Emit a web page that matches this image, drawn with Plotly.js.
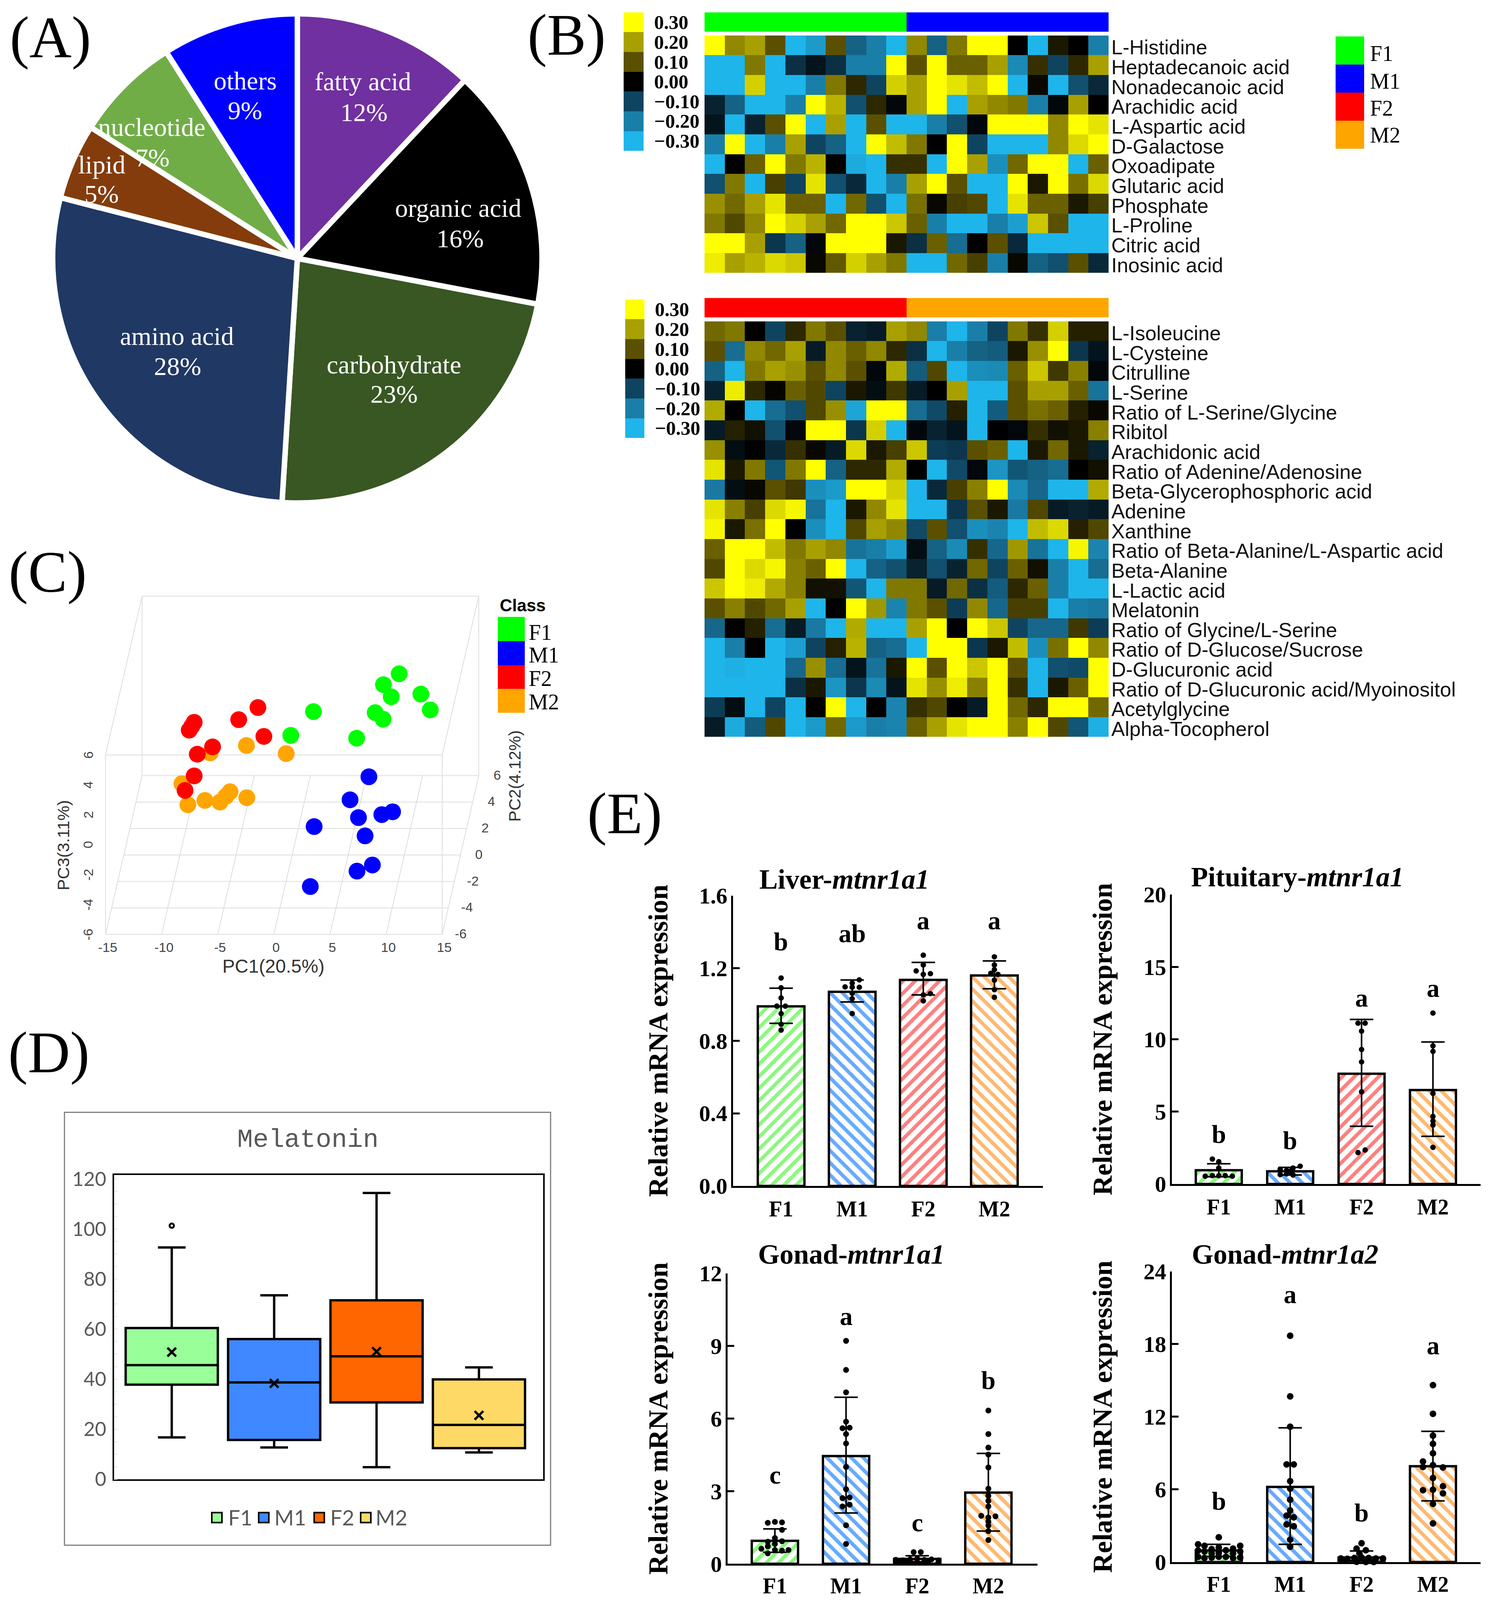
<!DOCTYPE html>
<html><head><meta charset="utf-8">
<script src="https://cdn.plot.ly/plotly-3.0.1.min.js"></script>
<style>html,body{margin:0;padding:0;background:#fff}</style></head>
<body><div id="chart" style="width:3808px;height:4096px"></div>
<script>
// ---------- DATA ----------
const groups = ['F1','M1','F2','M2'];
const groupColors = ['#00FF00','#0000FF','#FF0000','#FFA500'];

const pieLabels = ['fatty acid','organic acid','carbohydrate','amino acid','lipid','nucleotide','others'];
const pieValues = [12,16,23,28,5,7,9];
const pieColors = ['#7030A0','#000000','#385723','#203864','#843C0C','#70AD47','#0000FF'];

const heatTopNames = ['L-Histidine','Heptadecanoic acid','Nonadecanoic acid','Arachidic acid','L-Aspartic acid','D-Galactose','Oxoadipate','Glutaric acid','Phosphate','L-Proline','Citric acid','Inosinic acid'];
const heatTop = [
[3,1.7,2,1,-3,-2.5,1,-1.5,-2,-3,1.7,-1.5,1.5,3,3,0,-3,0.3,0,-2],
[-3,-3,1.5,-3,-0.7,-0.3,-0.7,-2,-2,3,1,3,1.2,1.2,2,-2.2,0.6,-1,0.5,2],
[-3,-3,2.5,-3,-3,-2,1.5,0.5,-1,2.5,2,3,2.7,2.3,3,-3,0.1,-3,-1.2,-0.6],
[-0.5,-1.5,-3,-3,-2,3,2.2,-1.2,0.5,-0.1,2,3,-3,2,1.7,1.5,-2,-0.1,2,0],
[-0.3,-3,-0.5,1,3,-3,2,-3,1,-3,-3,-2,-1.2,-0.1,3,3,3,1.7,3,2.7],
[-2,3,-3,-2,2,-1,-1.5,-3,3,2.3,1.5,0,3,-1,-3,-3,-3,1.7,2.6,3],
[-3,0,1.2,3,1.5,2.2,0,-2.8,-3,0.6,0.6,-3,3,2,-2.3,1.3,3,3,-3,1.2],
[-1.2,1.5,-3,0.8,-1,2.7,-1.2,-0.6,-3,-2,2,3,1,-3,-3,3,0.3,3,1.4,2.6],
[1.8,1.3,2,2.7,1.2,1.2,-3,1.3,-1.2,-3,1.4,0.1,0.8,0.9,-3,2.7,1.2,1.2,0.3,0.8],
[1.5,0.9,1.7,3,2.5,2,1.3,3,3,2.4,1.2,-2,-3,-3,-2,-2.6,2.4,1,-3,-3],
[3,3,2,-0.8,-1.5,-0.1,3,3,3,0.3,-0.7,1.2,-1.7,0,1,-0.6,-3,-3,-3,-3],
[2.8,2,2.2,2.6,2.4,0.1,1.1,2.5,2,1.5,-3,-3,1.3,0.8,-2,0.1,-1.5,-1.2,1,-0.6]];

const heatBottomNames = ['L-Isoleucine','L-Cysteine','Citrulline','L-Serine','Ratio of L-Serine/Glycine','Ribitol','Arachidonic acid','Ratio of Adenine/Adenosine','Beta-Glycerophosphoric acid','Adenine','Xanthine','Ratio of Beta-Alanine/L-Aspartic acid','Beta-Alanine','L-Lactic acid','Melatonin','Ratio of Glycine/L-Serine','Ratio of D-Glucose/Sucrose','D-Glucuronic acid','Ratio of D-Glucuronic acid/Myoinositol','Acetylglycine','Alpha-Tocopherol'];
const heatBottom = [
[1.3,1.5,0,-1,0.5,1.5,1,-0.5,-0.4,2,1.7,-2,-3,-2,-1,1.5,0.6,2.5,0.4,0.4],
[1,-1.7,1.7,1.3,2,-0.4,1.7,1.2,1.7,0.5,-0.7,-3,-2,-1.5,-1.4,0.3,1.8,3,-0.8,-0.3],
[-1.5,-3,1.5,2,1.8,1,1.7,1,-0.1,2.1,-1.4,0.9,-3,-2.3,-2.2,1.2,2.4,0.7,1.6,-0.1],
[-0.5,2.8,0.5,0.05,1.2,0.9,-1,0.3,-0.2,0.7,-0.4,0,2,-3,-3,1,2,2,1.2,-1.8],
[2.1,0,-3,-1.7,-1.2,0.9,1.8,-2.7,3,3,-1.7,-1.1,0.4,-3,-1.4,1,1.4,1.2,0.4,0.1],
[-0.4,0.4,0.2,-1.2,-0.1,3,3,-0.8,2.5,-3,-0.1,-0.5,-0.3,-3,0,-0.1,0.6,0.2,0.3,1.6],
[1.8,-0.2,0,-0.6,0.6,0.1,-0.4,2.6,0.3,0.8,2.4,-0.9,-0.8,1,1.2,-3,0.3,1.3,0.3,-0.5],
[2.7,0.3,1.5,-1.3,1.5,3,-1.5,0.5,0.5,2.1,0,-3,-1.1,-0.1,-2.4,-1.3,-1.5,-1.7,0,0.2],
[-1.9,-0.2,0.1,1,0.7,-2.3,-2.5,3,3,2.5,-3,-0.6,0.8,1.6,3,-2.2,-1.6,-3,-3,2.1],
[2.7,1.6,0.8,2.6,2.9,-1.8,-3,0.3,1.7,2.7,-3,-3,-0.8,1,0.3,-1.9,0.9,-0.4,-0.5,-0.4],
[2.9,0.3,1.4,3,0,-2.3,-3,0.9,2,1.7,-1.1,1,-1.2,-2.3,-2.1,-3,2.3,2.6,0.4,0.9],
[1.2,3,3,2.3,1.5,2,1.7,-1.8,-2,-2.6,-0.2,-1.5,-2.2,0.6,-1.6,1.9,-1.8,-3,2.9,-2.1],
[0.9,3,2.6,2.9,1.6,1.2,3,-3,-1.5,-1.2,-0.5,-1.2,-0.5,1.3,-1,1.2,0.2,-2,-3,-1.7],
[2.4,3,2.8,2.1,1.6,0.2,0.2,-1.3,-3,1.5,1.5,-0.4,1.3,-0.7,-1.4,0.5,1.2,-2,-3,-3],
[1,1.6,0.9,1.3,2,-3,0,3,1.9,-2.1,1.5,1,-0.9,1.7,-1.6,0.8,0.8,-3,-2,-1.9],
[-1.6,0,0.4,-1.7,-0.4,-1.9,-3,2.1,-3,-3,2,3,0,3,2.4,-1,-1.6,-1.6,0.7,-0.9],
[-3,-2,0,-3,-2.6,-1,0.4,2.2,-1.5,-1.7,-3,3,3,-0.8,0.3,2.3,-2.3,1.4,3,1.7],
[-3,-2.9,-3,-3,-1.6,1.8,-1.7,-0.3,-1.8,0.3,3,1,3,2.4,3,1,-3,-1.2,-1.1,3],
[-3,-3,-3,-3,-0.7,0.3,-2.4,-0.8,-2.2,-0.3,2.7,1.8,2.8,1.6,3,0.6,-3,0.3,1.2,3],
[-0.9,-0.2,-3,-1,-3,0,3,-3,0,-2.1,0.6,0.9,0,-0.4,3,1.3,0.5,3,3,1.3],
[-0.4,-2.8,-1.4,0.9,-3,-2.5,1.3,-2.5,-2,-2.1,1.2,2,2.7,3,3,1.6,3,0.9,-1.3,-2.9]];
const scaleValues = [3,2,1,0,-1,-2,-3];
const scaleLabels = ['0.30','0.20','0.10','0.00','\u22120.10','\u22120.20','\u22120.30'];

// PCA: PC1 / PC3 as they read on the front face of the oblique box
const pcaF1X=[11.17,9.77,10.46,13.10,13.94,9.03,9.74,7.38,3.53,1.51];
const pcaF1Y=[11.43,10.70,9.89,10.07,9.01,8.83,8.39,7.12,8.90,7.31];
const pcaM1X=[8.47,6.79,7.54,9.62,10.58,3.59,8.13,8.78,7.41,3.25];
const pcaM1Y=[4.54,3.00,1.81,2.01,2.20,1.21,0.59,-1.36,-1.77,-2.80];
const pcaF2X=[-1.42,-3.13,-0.89,-7.10,-7.32,-7.54,-5.46,-6.82,-7.10,-7.91];
const pcaF2Y=[9.17,8.36,7.24,8.18,7.91,7.66,6.54,6.05,4.60,3.63];
const pcaM2X=[-2.44,1.10,-5.67,-8.19,-7.66,-6.14,-4.80,-4.28,-3.90,-2.41];
const pcaM2Y=[6.63,6.09,6.14,4.08,2.67,2.96,2.85,3.23,3.54,3.14];
const pc1Ticks=[-15,-10,-5,0,5,10,15];
const pc2Ticks=[-6,-4,-2,0,2,4,6];
const pc3Ticks=[-6,-4,-2,0,2,4,6];

// Melatonin box plot
const boxFill=['#99FF99','#3F88FF','#FF6600','#FFD966'];
const boxQ1=[37.8,15.7,30.7,12.4];
const boxMedian=[45.6,38.7,49.1,21.7];
const boxQ3=[60.4,56.0,71.5,39.9];
const boxLow=[16.7,12.7,4.8,10.7];
const boxHigh=[92.6,73.5,114.4,44.7];
const boxMean=[50.8,38.3,51.0,25.5];
const boxOutlierX=[0];
const boxOutlierY=[101.3];

// qPCR bars
const barLine=['#8CF77F','#66AAFF','#FF7F7F','#FFB870'];
const liverMean=[0.99,1.07,1.136,1.16], liverUp=[1.09,1.135,1.232,1.24], liverLow=[0.896,1.014,1.053,1.087];
const liverLetters=['b','ab','a','a'], liverLetterY=[1.347,1.393,1.464,1.464];
const liverDotX=[0,0,0,-0.06,0.06,0,0,0, 1.1,0.9,1,1,1.1,1,1,1, 2,2,1.9,2.1,2,2.1,2,2, 3,3,3,2.95,3.05,3,3,3];
const liverDotY=[1.146,1.092,1.036,0.991,0.991,0.95,0.891,0.859, 1.136,1.097,1.118,1.095,1.095,1.062,1.032,0.95, 1.272,1.218,1.185,1.17,1.166,1.06,1.053,1.02, 1.263,1.218,1.192,1.172,1.166,1.134,1.082,1.04];

const pitMean=[0.95,0.88,7.62,6.49], pitUp=[1.4,1.15,11.37,9.81], pitLow=[0.5,0.62,3.99,3.29];
const pitLetters=['b','b','a','a'], pitLetterY=[3.45,3.02,12.86,13.54];
const pitDotX=[-0.09,0,0,-0.19,-0.09,0,0.09,0.19, 1.14,1.04,0.86,0.95,1,0.86,0.95,1.04, 1.95,2.05,2,2,2,2,2.05,1.95, 3,3,3,3,3,3,3,3];
const pitDotY=[1.72,1.54,1.1,0.54,0.58,0.57,0.58,0.54, 1.23,1.1,1.02,0.94,0.86,0.65,0.7,0.62, 11.11,11.11,10.56,9.29,8.43,6.37,2.35,2.17, 11.81,9.54,9.16,6.26,4.67,4.35,4.07,2.53];

const gon1Mean=[0.95,4.45,0.2,2.94], gon1Up=[1.44,6.88,0.33,4.56], gon1Low=[0.47,2.1,0.08,1.35];
const gon1Letters=['c','a','c','b'], gon1LetterY=[3.67,10.23,1.71,7.58];
const gon1DotX=[-0.1,0,0.1,0.1,0,-0.1,0.1,0,-0.1,-0.19,0,0.1,0.19,-0.1, 1,1,1,1,0.95,1.05,1,1,1,1,0.95,1.05,0.95,1.05,1,1, 1.95,2.05,1.7,1.8,1.9,2,2.1,2.2,2.3,1.76,1.86,2,2.15,2.3, 3,3,3,3,3,3,3,3,3,2.9,3.1,3,3,3,3,3];
const gon1DotY=[1.69,1.73,1.71,1.4,1.06,0.91,0.93,0.82,0.72,0.62,0.57,0.54,0.57,0.43, 9.21,8.01,7.08,5.87,5.6,5.62,5.36,4.97,4.0,3.08,2.71,2.74,2.37,2.44,1.59,0.82, 0.48,0.48,0.16,0.14,0.18,0.21,0.16,0.18,0.14,0.06,0.06,0.06,0.06,0.04, 6.33,5.36,4.8,4.51,3.98,3.1,2.81,2.6,2.37,1.98,1.96,1.91,1.74,1.58,1.35,0.98];

const gon2Mean=[0.95,6.2,0.37,7.91], gon2Up=[1.46,11.08,0.91,10.79], gon2Low=[0.47,1.46,0.14,5.05];
const gon2Letters=['b','a','b','a'], gon2LetterY=[5.05,22.1,4.08,17.88];
const gon2DotX=[0,-0.29,-0.2,0.3,0.2,-0.1,0,0.1,-0.29,-0.2,-0.1,0,0.2,0.3,-0.29,-0.2,-0.1,0,0.1,0.2,0.3, 1,1,1,0.95,1.05,1,1,1,1,0.95,1.05,0.95,1.05,1,1, 2,1.93,2.06,1.97,1.71,1.8,1.9,2,2.1,2.2,2.3,1.75,1.93,2.06,2.17, 3,3,3,3,3,2.86,3,2.86,3.14,3,3.14,2.86,3,3.14,3,3];
const gon2DotY=[2.04,1.46,1.34,1.34,1.11,1.07,1.2,0.97,0.95,0.87,0.72,0.76,0.72,0.87,0.43,0.33,0.37,0.43,0.43,0.33,0.37, 18.69,13.68,11.17,8.06,8.06,6.68,6.06,5.15,4.26,3.83,3.69,3.11,2.95,1.85,1.26, 1.55,1.11,0.97,0.72,0.29,0.27,0.33,0.37,0.33,0.29,0.29,0.1,0.02,0,0, 14.61,12.24,10.44,9.76,8.98,8.3,8.0,7.85,7.81,6.94,6.26,5.93,5.97,5.67,4.8,3.19];

// ---------- BUILD ----------
// Positions below are given in reference pixels (3808 x 4173) and laid out as
// fractions, so the whole figure fits the 4096 px tall photograph.
const W=3808,H=4173,DRAW_H=4096;
const SERIF='Liberation Serif',SANS='Liberation Sans';
const traces=[],annotations=[],shapes=[];
const layout={width:W,height:DRAW_H,margin:{l:0,r:0,t:0,b:0,pad:0},paper_bgcolor:'#fff',plot_bgcolor:'rgba(0,0,0,0)',showlegend:false,hovermode:false};
let axisN=0;
function axes(x0,x1,y0,y1,xo,yo){
  axisN++;const s=axisN===1?'':String(axisN);
  layout['xaxis'+s]=Object.assign({domain:[x0/W,x1/W],anchor:'y'+s,showgrid:false,zeroline:false,showticklabels:false,ticks:'',fixedrange:true},xo);
  layout['yaxis'+s]=Object.assign({domain:[1-y1/H,1-y0/H],anchor:'x'+s,showgrid:false,zeroline:false,showticklabels:false,ticks:'',fixedrange:true},yo);
  return {x:'x'+s,y:'y'+s};
}
function txt(x,y,text,size,o){
  annotations.push(Object.assign({xref:'paper',yref:'paper',x:x/W,y:1-y/H,text:text,showarrow:false,xanchor:'center',yanchor:'middle',
    font:{family:SERIF,size:size,color:'#000'}},o||{}));
}
function rect(x0,x1,y0,y1,fill,line){
  shapes.push({type:'rect',xref:'paper',yref:'paper',x0:x0/W,x1:x1/W,y0:1-y1/H,y1:1-y0/H,fillcolor:fill,line:line||{width:0}});
}
// panel letters
txt(129,97,'(A)',150);txt(1450,91,'(B)',150);txt(122,1492,'(C)',150);txt(125,2745,'(D)',150);txt(1599,2122,'(E)',150);

// A: pie
traces.push({type:'pie',labels:pieLabels,values:pieValues,sort:false,direction:'clockwise',rotation:0,textinfo:'none',
  marker:{colors:pieColors,line:{color:'#fff',width:14}},domain:{x:[131/W,1391/W],y:[1-1312/H,1-36/H]},hoverinfo:'none'});
const pieText=[[928,212,931,293],[1172,543,1177,622],[1008,951,1008,1027],[452,877,454,955],[260,429,260,506],[388,332,390,411],[627,210,627,288]];
pieLabels.forEach((l,i)=>{const p=pieText[i];
  txt(p[0],p[1],l,66,{font:{family:SERIF,size:66,color:'#fff'}});
  txt(p[2],p[3],pieValues[i]+'%',66,{font:{family:SERIF,size:66,color:'#fff'}});});

// B: heatmaps
const heatScale=[[0,'#1EB5EA'],[1/6,'#1A7FA8'],[2/6,'#0F4460'],[3/6,'#000000'],[4/6,'#5A5000'],[5/6,'#A8A000'],[1,'#FFFF00']];
function heatBlock(rows,names,top,barY0,barY1,scaleX0,scaleX1,scaleY0,c1,c2){
  const cell=51.6,n=rows.length;
  let a=axes(1803,2837,barY0,barY1,{range:[-0.5,1.5]},{range:[-0.5,0.5]});
  traces.push({type:'heatmap',xaxis:a.x,yaxis:a.y,x:[0,1],y:[0],z:[[0,1]],showscale:false,hoverinfo:'none',colorscale:[[0,c1],[0.5,c1],[0.5,c2],[1,c2]]});
  a=axes(1803,2837,top,top+cell*n,{range:[-0.5,19.5]},{range:[n-0.5,-0.5],side:'right',showticklabels:true,
    tickvals:names.map((_,i)=>i+0.1),ticktext:names,tickfont:{family:SANS,size:52,color:'#111'},ticklabelstandoff:6});
  traces.push({type:'heatmap',xaxis:a.x,yaxis:a.y,x:rows[0].map((_,i)=>i),y:names.map((_,i)=>i),z:rows.map(r=>r.map(v=>v/10)),zmin:-0.3,zmax:0.3,
    colorscale:heatScale,showscale:false,hoverinfo:'none'});
  a=axes(scaleX0,scaleX1,scaleY0,scaleY0+cell*7,{range:[-0.5,0.5]},{range:[6.5,-0.5],side:'right',showticklabels:true,
    tickvals:scaleValues.map((_,i)=>i),ticktext:scaleLabels,tickfont:{family:SERIF,size:50,color:'#000',weight:700},ticklabelstandoff:26});
  traces.push({type:'heatmap',xaxis:a.x,yaxis:a.y,x:[0],y:scaleValues.map((_,i)=>i),z:scaleValues.map(v=>[v/10]),zmin:-0.3,zmax:0.3,colorscale:heatScale,showscale:false,hoverinfo:'none'});
}
heatBlock(heatTop,heatTopNames,92.5,32,83,1596,1647,32,groupColors[0],groupColors[1]);
heatBlock(heatBottom,heatBottomNames,838,777,828,1600,1649,781,groupColors[2],groupColors[3]);
groups.forEach((g,i)=>{rect(3418,3491,95+73.25*i,95+73.25*(i+1),groupColors[i]);
  txt(3504,[140,212,282,352][i],g,56,{xanchor:'left'});});

// C: PCA in an oblique box
const pxU=28.72,pyU=39,fx=270,fy=2437;           // PC1=-15,PC3=-6 corner and scale
const depthX=3.26,depthY=10.62;                  // PC2 -6..6 shift on the picture
const pcaA=axes(150,1320,1530,2520,
  {range:[-15-(fx-150)/pxU,-15+(1320-fx)/pxU]},{range:[-6-(2520-fy)/pyU,-6+(fy-1530)/pyU]});
const gx=[],gy=[];
function seg(x0,y0,x1,y1){gx.push(x0,x1,null);gy.push(y0,y1,null);}
const proj=(pc1,pc2,pc3)=>{const f=(pc2+6)/12;return [pc1+f*depthX,pc3+f*depthY];};
pc1Ticks.forEach(t=>{const a=proj(t,-6,-6),b=proj(t,6,-6);seg(a[0],a[1],b[0],b[1]);});
pc2Ticks.forEach(t=>{const a=proj(-15,t,-6),b=proj(15,t,-6);seg(a[0],a[1],b[0],b[1]);});
[[-15,-6,-6,-15,-6,6],[15,-6,-6,15,-6,6],[-15,-6,6,15,-6,6],[-15,-6,6,-15,6,6],[15,-6,6,15,6,6],
 [-15,6,6,15,6,6],[-15,6,-6,-15,6,6],[15,6,-6,15,6,6]].forEach(e=>{const a=proj(e[0],e[1],e[2]),b=proj(e[3],e[4],e[5]);seg(a[0],a[1],b[0],b[1]);});
traces.push({type:'scatter',mode:'lines',xaxis:pcaA.x,yaxis:pcaA.y,x:gx,y:gy,line:{color:'#DDDDDD',width:2},hoverinfo:'none',connectgaps:false,cliponaxis:false});
[[pcaM2X,pcaM2Y,groupColors[3]],[pcaM1X,pcaM1Y,groupColors[1]],[pcaF1X,pcaF1Y,groupColors[0]],[pcaF2X,pcaF2Y,groupColors[2]]].forEach(s=>{
  traces.push({type:'scatter',mode:'markers',xaxis:pcaA.x,yaxis:pcaA.y,x:s[0],y:s[1],marker:{size:43,color:s[2],line:{width:0}},hoverinfo:'none'});});
const pcaFont={family:SANS,size:34,color:'#444'};
const dataTxt=(x,y,text,o)=>annotations.push(Object.assign({xref:pcaA.x,yref:pcaA.y,x:x,y:y,text:text,showarrow:false,font:pcaFont,xanchor:'center',yanchor:'middle'},o||{}));
pc1Ticks.forEach(t=>dataTxt(t+0.2,-6.85,String(t)));
pc3Ticks.forEach(t=>dataTxt(-16.55,t,String(t),{textangle:-90}));
pc2Ticks.forEach(t=>{const p=proj(15,t,-6);dataTxt(p[0]+1.65,p[1]+0.05,String(t));});
txt(699,2520,'PC1(20.5%)',48,{font:{family:SANS,size:48,color:'#333'}});
txt(162,2205,'PC3(3.11%)',43,{textangle:-90,font:{family:SANS,size:43,color:'#333'}});
txt(1317,2024,'PC2(4.12%)',43,{textangle:-90,font:{family:SANS,size:43,color:'#333'}});
txt(1337,1579,'Class',44,{font:{family:SANS,size:44,color:'#000',weight:700}});
[1609,1672,1735,1797].forEach((y,i)=>{rect(1274,1343,y,[1672,1735,1797,1859][i],groupColors[i]);
  txt(1351,[1649,1709,1770,1831][i],groups[i],56,{xanchor:'left'});});

// D: box plot
rect(165,1409,2901,4030,'rgba(0,0,0,0)',{color:'#7F7F7F',width:3});
txt(788,2973,'Melatonin',67,{font:{family:'Liberation Mono',size:67,color:'#595959'}});
const boxA=axes(292,1390,3065,3858,{range:[-0.563,3.627],showline:true,mirror:true,linecolor:'#000',linewidth:4},
  {range:[0,121.5],showline:true,mirror:true,linecolor:'#000',linewidth:4,showticklabels:true,tickvals:[0,20,40,60,80,100,120],ticklabelstandoff:6,
   tickfont:{family:'Lato',size:50,color:'#595959'},minor:{dtick:5,ticks:'inside',ticklen:8,tickcolor:'#E4E4E4',tickwidth:2}});
groups.forEach((g,i)=>{traces.push({type:'box',xaxis:boxA.x,yaxis:boxA.y,name:g,x:[i],q1:[boxQ1[i]],median:[boxMedian[i]],q3:[boxQ3[i]],
  lowerfence:[boxLow[i]],upperfence:[boxHigh[i]],width:0.9,whiskerwidth:0.3,boxpoints:false,fillcolor:boxFill[i],line:{color:'#000',width:6},hoverinfo:'none'});});
traces.push({type:'scatter',mode:'markers',xaxis:boxA.x,yaxis:boxA.y,x:[0,1,2,3],y:boxMean,marker:{symbol:'x-thin',size:22,line:{color:'#000',width:6}},hoverinfo:'none'});
traces.push({type:'scatter',mode:'markers',xaxis:boxA.x,yaxis:boxA.y,x:boxOutlierX,y:boxOutlierY,marker:{symbol:'circle',size:11,color:'#fff',line:{color:'#000',width:5}},hoverinfo:'none'});
const boxLegendLeft=[582,700,843,959],boxSwatch=[555,675,817,936];
groups.forEach((g,i)=>{rect(boxSwatch[i]-13,boxSwatch[i]+13,3945,3971,boxFill[i],{color:'#000',width:4});
  txt(boxLegendLeft[i],3958,g,54,{xanchor:'left',font:{family:'Lato',size:54,color:'#595959'}});});

// E: bars
const tickX={family:SERIF,size:56,color:'#000',weight:700};
const tickY={family:SERIF,size:58,color:'#000',weight:700};
function barPanel(o){
  const a=axes(o.x0,o.x1,o.yTop,o.yBase,
    {range:o.xr,showline:true,linecolor:'#000',linewidth:5,showticklabels:true,tickvals:[0,1,2,3],ticktext:groups,tickfont:tickX,ticklabelstandoff:o.xStand},
    {range:[0,o.top],showline:true,linecolor:'#000',linewidth:5,showticklabels:true,tickvals:o.ticks,tickformat:o.fmt,tickfont:tickY,ticks:'inside',ticklen:17,tickwidth:5,tickcolor:'#000',ticklabelstandoff:-2,
     title:{text:'Relative mRNA expression',font:{family:SERIF,size:70,color:'#000',weight:700},standoff:o.stand}});
  traces.push({type:'bar',xaxis:a.x,yaxis:a.y,x:[0,1,2,3],y:o.mean,width:o.w,
    marker:{color:'#fff',line:{color:'#000',width:6},pattern:{shape:['/','\\','/','\\'],fgcolor:barLine,bgcolor:'#fff',size:22,solidity:0.42}},
    error_y:{type:'data',symmetric:false,array:o.up.map((v,i)=>v-o.mean[i]),arrayminus:o.mean.map((v,i)=>v-o.low[i]),color:'#000',thickness:4,width:30},hoverinfo:'none'});
  traces.push({type:'scatter',mode:'markers',xaxis:a.x,yaxis:a.y,x:o.dx,y:o.dy,marker:{size:o.dot,color:'#000'},cliponaxis:false,hoverinfo:'none'});
  o.letters.forEach((l,i)=>annotations.push({xref:a.x,yref:a.y,x:i,y:o.ly[i],text:l,showarrow:false,xanchor:'center',yanchor:'middle',font:{family:SERIF,size:66,color:'#000',weight:700}}));
  txt(o.tx,o.ty,o.title,71,{font:{family:SERIF,size:71,color:'#000'}});
}
barPanel({x0:1876,x1:2669,yTop:2336,yBase:3093,xr:[-0.676,3.683],w:0.656,top:1.6,ticks:[0,0.4,0.8,1.2,1.6],fmt:'.1f',mean:liverMean,up:liverUp,low:liverLow,dx:liverDotX,dy:liverDotY,letters:liverLetters,ly:liverLetterY,tx:2160,ty:2293,title:'<b>Liver-<i>mtnr1a1</i></b>',stand:59,xStand:6,dot:14});
barPanel({x0:2999,x1:3789,yTop:2333,yBase:3088,xr:[-0.657,3.667],w:0.644,top:20,ticks:[0,5,10,15,20],fmt:'d',mean:pitMean,up:pitUp,low:pitLow,dx:pitDotX,dy:pitDotY,letters:pitLetters,ly:pitLetterY,tx:3320,ty:2287,title:'<b>Pituitary-<i>mtnr1a1</i></b>',stand:59,xStand:6,dot:14});
barPanel({x0:1862,x1:2655,yTop:3321,yBase:4078.5,xr:[-0.665,3.69],w:0.65,top:12,ticks:[0,3,6,9,12],fmt:'d',mean:gon1Mean,up:gon1Up,low:gon1Low,dx:gon1DotX,dy:gon1DotY,letters:gon1Letters,ly:gon1LetterY,tx:2178,ty:3271,title:'<b>Gonad-<i>mtnr1a1</i></b>',stand:59,xStand:4,dot:15});
barPanel({x0:2999,x1:3789,yTop:3316,yBase:4074,xr:[-0.657,3.667],w:0.644,top:24,ticks:[0,6,12,18,24],fmt:'d',mean:gon2Mean,up:gon2Up,low:gon2Low,dx:gon2DotX,dy:gon2DotY,letters:gon2Letters,ly:gon2LetterY,tx:3288,ty:3271,title:'<b>Gonad-<i>mtnr1a2</i></b>',stand:59,xStand:4,dot:17});

layout.annotations=annotations;layout.shapes=shapes;layout.boxmode='overlay';layout.barmode='overlay';
Plotly.newPlot('chart',traces,layout,{displayModeBar:false,staticPlot:true});
</script></body></html>
